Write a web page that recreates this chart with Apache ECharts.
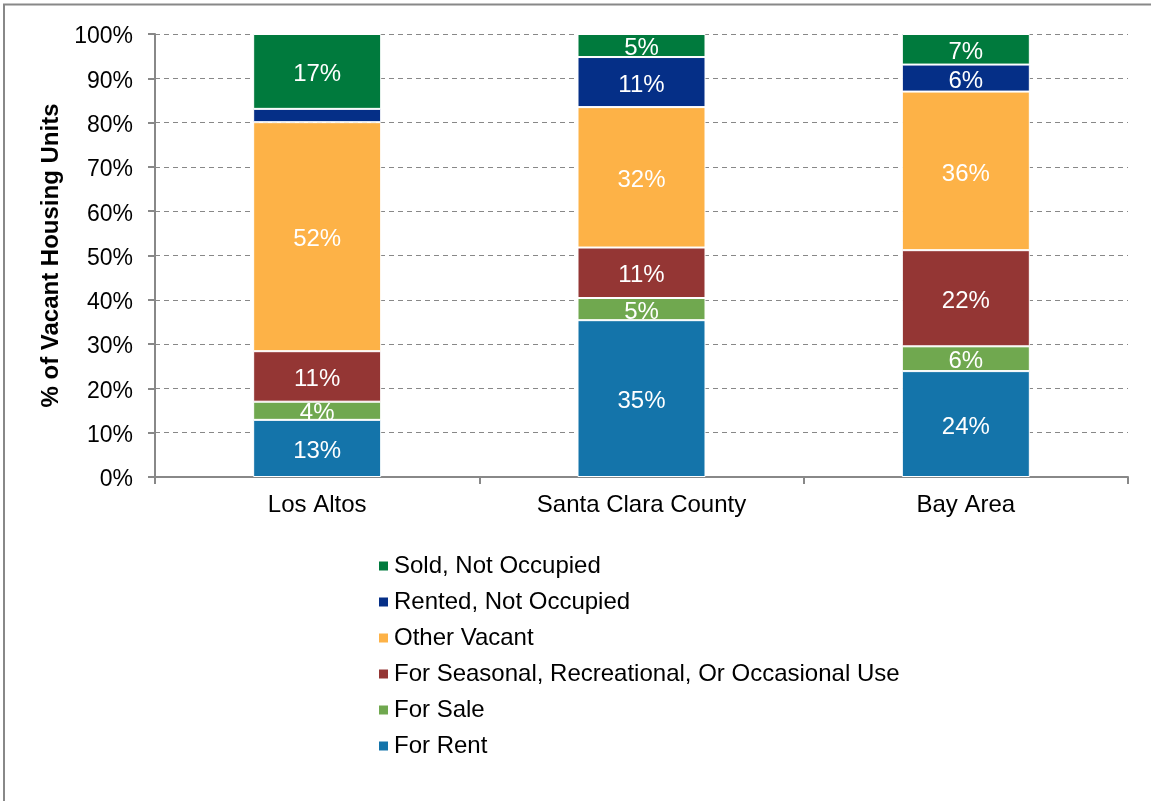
<!DOCTYPE html>
<html>
<head>
<meta charset="utf-8">
<title>Vacant Housing Units</title>
<script src="https://cdn.jsdelivr.net/npm/echarts@6/dist/echarts.min.js"></script>
<style>
  html, body { margin: 0; padding: 0; background: #fff; }
  #chart { width: 1151px; height: 801px; }
</style>
</head>
<body>
<div id="chart"></div>
<script>
// categories and stacked shares (% of vacant units), bottom to top
var categories = ["Los Altos", "Santa Clara County", "Bay Area"];
var forRent = [12.9, 35.4, 23.9];
var forSale = [4.1, 5.0, 5.6];
var seasonalUse = [11.4, 11.4, 21.7];
var otherVacant = [51.7, 31.7, 35.8];
var rentedNotOccupied = [3.0, 11.3, 6.1];
var soldNotOccupied = [16.9, 5.2, 6.9];
var yTicks = [0, 10, 20, 30, 40, 50, 60, 70, 80, 90, 100];

var font = "Liberation Sans, Arial, sans-serif";

var stackDefs = [
  { name: "For Rent", data: forRent, color: "#1474AA" },
  { name: "For Sale", data: forSale, color: "#70A84F" },
  { name: "For Seasonal, Recreational, Or Occasional Use", data: seasonalUse, color: "#943634" },
  { name: "Other Vacant", data: otherVacant, color: "#FDB247" },
  { name: "Rented, Not Occupied", data: rentedNotOccupied, color: "#052F87" },
  { name: "Sold, Not Occupied", data: soldNotOccupied, color: "#007A3D" }
];

var series = stackDefs.map(function (s) {
  return {
    name: s.name,
    type: "bar",
    stack: "total",
    barWidth: 128,
    data: s.data,
    itemStyle: { color: s.color, borderColor: "#fff", borderWidth: 1 },
    label: {
      show: true,
      position: "inside",
      offset: [0, 3],
      color: "#fff",
      fontFamily: font,
      fontSize: 24,
      formatter: function (p) {
        // tiny slices get no label, like the original
        return p.value < 4 ? "" : Math.round(p.value) + "%";
      }
    }
  };
});

var myChart = echarts.init(document.getElementById("chart"));
myChart.setOption({
  animation: false,
  backgroundColor: "#fff",
  textStyle: { fontFamily: font },
  grid: { left: 155, right: 23, top: 34, bottom: 324 },
  legend: {
    orient: "vertical",
    left: 377,
    top: 554,
    padding: 0,
    icon: "rect",
    itemWidth: 11,
    itemHeight: 11,
    itemGap: 12,
    data: stackDefs.map(function (s) { return s.name; }).reverse(),
    textStyle: { fontFamily: font, fontSize: 24, color: "#000", lineHeight: 24 }
  },
  xAxis: {
    type: "category",
    data: categories,
    axisLine: { lineStyle: { color: "#888", width: 2 } },
    axisTick: { show: true, length: 7, lineStyle: { color: "#888", width: 2 } },
    axisLabel: { color: "#000", fontFamily: font, fontSize: 24, margin: 16 }
  },
  yAxis: {
    type: "value",
    min: yTicks[0],
    max: yTicks[yTicks.length - 1],
    interval: 10,
    name: "% of Vacant Housing Units",
    nameLocation: "middle",
    nameGap: 89,
    nameTextStyle: { fontFamily: font, fontSize: 24, fontWeight: "bold", color: "#000" },
    axisLine: { show: true, lineStyle: { color: "#888", width: 2 } },
    axisTick: { show: true, length: 7, lineStyle: { color: "#888", width: 2 } },
    axisLabel: {
      color: "#000",
      fontFamily: font,
      fontSize: 23,
      margin: 22,
      formatter: function (v) { return "{t|" + v + "%}"; },
      rich: { t: { fontFamily: font, fontSize: 23, color: "#000", padding: [6, 0, 0, 0] } }
    },
    splitLine: { show: true, lineStyle: { color: "#888", type: [5, 4], width: 1 } }
  },
  graphic: [
    { type: "line", shape: { x1: 3, y1: 4.5, x2: 1151, y2: 4.5 }, style: { stroke: "#888", lineWidth: 2 } },
    { type: "line", shape: { x1: 4, y1: 4, x2: 4, y2: 801 }, style: { stroke: "#888", lineWidth: 2 } }
  ],
  series: series
});
</script>
</body>
</html>
